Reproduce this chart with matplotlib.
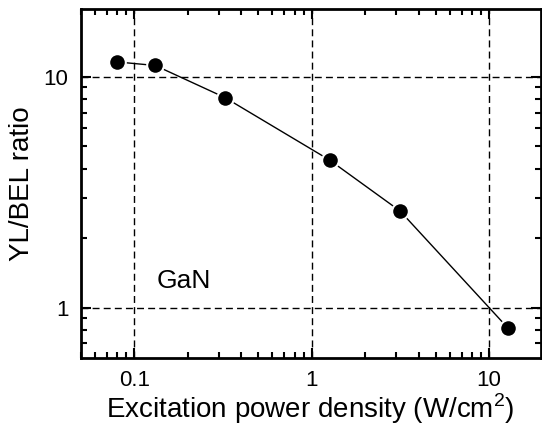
import numpy as np
import matplotlib.pyplot as plt
from matplotlib.ticker import LogLocator, FixedLocator, FixedFormatter, NullFormatter

plt.rcParams['font.family'] = ['Liberation Sans', 'DejaVu Sans']

# YL/BEL intensity ratio vs excitation power density
potencia = [0.080, 0.131, 0.324, 1.26, 3.15, 12.7]
razao = [11.6, 11.2, 8.13, 4.36, 2.62, 0.819]

x_ticks = [0.1, 1, 10]
x_labels = ['0.1', '1', '10']
y_ticks = [1, 10]
y_labels = ['1', '10']

fig = plt.figure(figsize=(5.42, 4.28), dpi=100)
ax = fig.add_axes([0.1494, 0.1643, 0.848, 0.815])

ax.plot(potencia, razao, '-', color='black', lw=1.0, zorder=2)
ax.plot(potencia, razao, 'o', color='black', ms=12, mec='white', mew=1.5, zorder=3)

ax.set_xscale('log')
ax.set_yscale('log')
ax.set_xlim(0.05, 19.5)
ax.set_ylim(0.607, 19.7)

ax.xaxis.set_major_locator(FixedLocator(x_ticks))
ax.xaxis.set_major_formatter(FixedFormatter(x_labels))
ax.yaxis.set_major_locator(FixedLocator(y_ticks))
ax.yaxis.set_major_formatter(FixedFormatter(y_labels))
ax.xaxis.set_minor_locator(LogLocator(base=10, subs=np.arange(2, 10), numticks=20))
ax.yaxis.set_minor_locator(LogLocator(base=10, subs=np.arange(2, 10), numticks=20))
ax.xaxis.set_minor_formatter(NullFormatter())
ax.yaxis.set_minor_formatter(NullFormatter())

ax.tick_params(which='both', direction='in', top=True, right=True, width=1.5)
ax.tick_params(which='major', length=7, labelsize=16, pad=9)
ax.tick_params(which='minor', length=4)
for s in ax.spines.values():
    s.set_linewidth(2)

ax.grid(True, which='major', color='black', ls=(0, (5, 3)), lw=1.0)
ax.set_axisbelow(True)

ax.text(0.133, 1.22, 'GaN', fontsize=19)
ax.set_xlabel('Excitation power density (W/cm$^{\\mathregular{2}}$)', fontsize=20, labelpad=0)
ax.set_ylabel('YL/BEL ratio', fontsize=20, labelpad=6)

fig.savefig('out.png', dpi=100)
